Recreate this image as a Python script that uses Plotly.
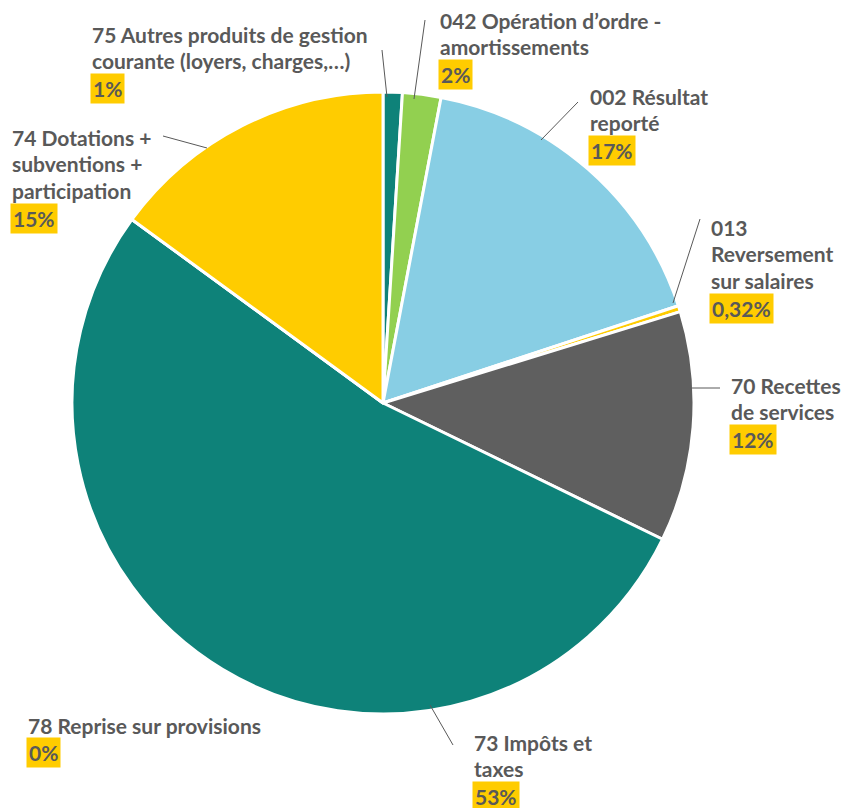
import plotly.graph_objects as go

# ---- data ----
categories = ["75", "042", "002", "013", "70", "73", "78", "74"]
name_lines = [
    ["75 Autres produits de gestion", "courante (loyers, charges,…)"],
    ["042 Opération d’ordre -", "amortissements"],
    ["002 Résultat", "reporté"],
    ["013", "Reversement", "sur salaires"],
    ["70 Recettes", "de services"],
    ["73 Impôts et", "taxes"],
    ["78 Reprise sur provisions"],
    ["74 Dotations +", "subventions +", "participation"],
]
values = [1, 2, 17, 0.32, 12, 53, 0, 15]
pct_labels = ["1%", "2%", "17%", "0,32%", "12%", "53%", "0%", "15%"]

# ---- styles / layout ----
colors = ["#0E8279", "#92D050", "#88CEE4", "#FFCC00", "#5F5F5F", "#0E8279", "#A5A5A5", "#FFCC00"]
W, H = 842, 808
# label block: left x, first-line center y (pixels)
label_pos = [(90, 34), (438, 20), (588, 96), (709, 227), (729, 385), (472, 742), (26, 725), (10, 137)]
# leader lines: (x0, y0, x1, y1) pixels, None if no line
leaders = [(387, 97, 382, 50), (414, 99, 425, 20), (541, 140, 578, 102), (673, 303, 700, 219),
           (692, 388, 720, 388), (430, 705, 453, 745), None, (207, 148, 163, 136)]
line_h = 26.8
txt_color = "#595959"
font_family = "Lato"
font_size = 21

def px(x):
    return x / W

def py(y):
    return 1 - y / H

fig = go.Figure(go.Pie(
    labels=categories,
    values=values,
    sort=False,
    direction="clockwise",
    rotation=0,
    marker=dict(colors=colors, line=dict(color="white", width=3)),
    textinfo="none",
    hoverinfo="label+percent",
    showlegend=False,
    domain=dict(x=[72 / W, 694 / W], y=[1 - 714 / H, 1 - 92 / H]),
))

annotations = []
for lines, pct, (lx, ly) in zip(name_lines, pct_labels, label_pos):
    for i, ln in enumerate(lines):
        annotations.append(dict(
            x=px(lx), y=py(ly + i * line_h), xref="paper", yref="paper",
            xanchor="left", yanchor="middle", showarrow=False, text=ln,
            font=dict(family=font_family, size=font_size, color=txt_color, weight="bold"),
        ))
    annotations.append(dict(
        x=px(lx), y=py(ly + len(lines) * line_h + 1), xref="paper", yref="paper",
        xanchor="left", yanchor="middle", showarrow=False, text=pct,
        bgcolor="#FFCC00", borderpad=2,
        font=dict(family=font_family, size=font_size, color=txt_color, weight="bold"),
    ))

shapes = []
for ld in leaders:
    if ld is None:
        continue
    x0, y0, x1, y1 = ld
    shapes.append(dict(type="line", xref="paper", yref="paper",
                       x0=px(x0), y0=py(y0), x1=px(x1), y1=py(y1),
                       line=dict(color="#595959", width=1)))

fig.update_layout(
    width=W, height=H,
    margin=dict(l=0, r=0, t=0, b=0),
    paper_bgcolor="white", plot_bgcolor="white",
    annotations=annotations, shapes=shapes,
)

fig.write_html("out.html", config={"displayModeBar": False},
               post_script="document.body.style.margin='0';")
